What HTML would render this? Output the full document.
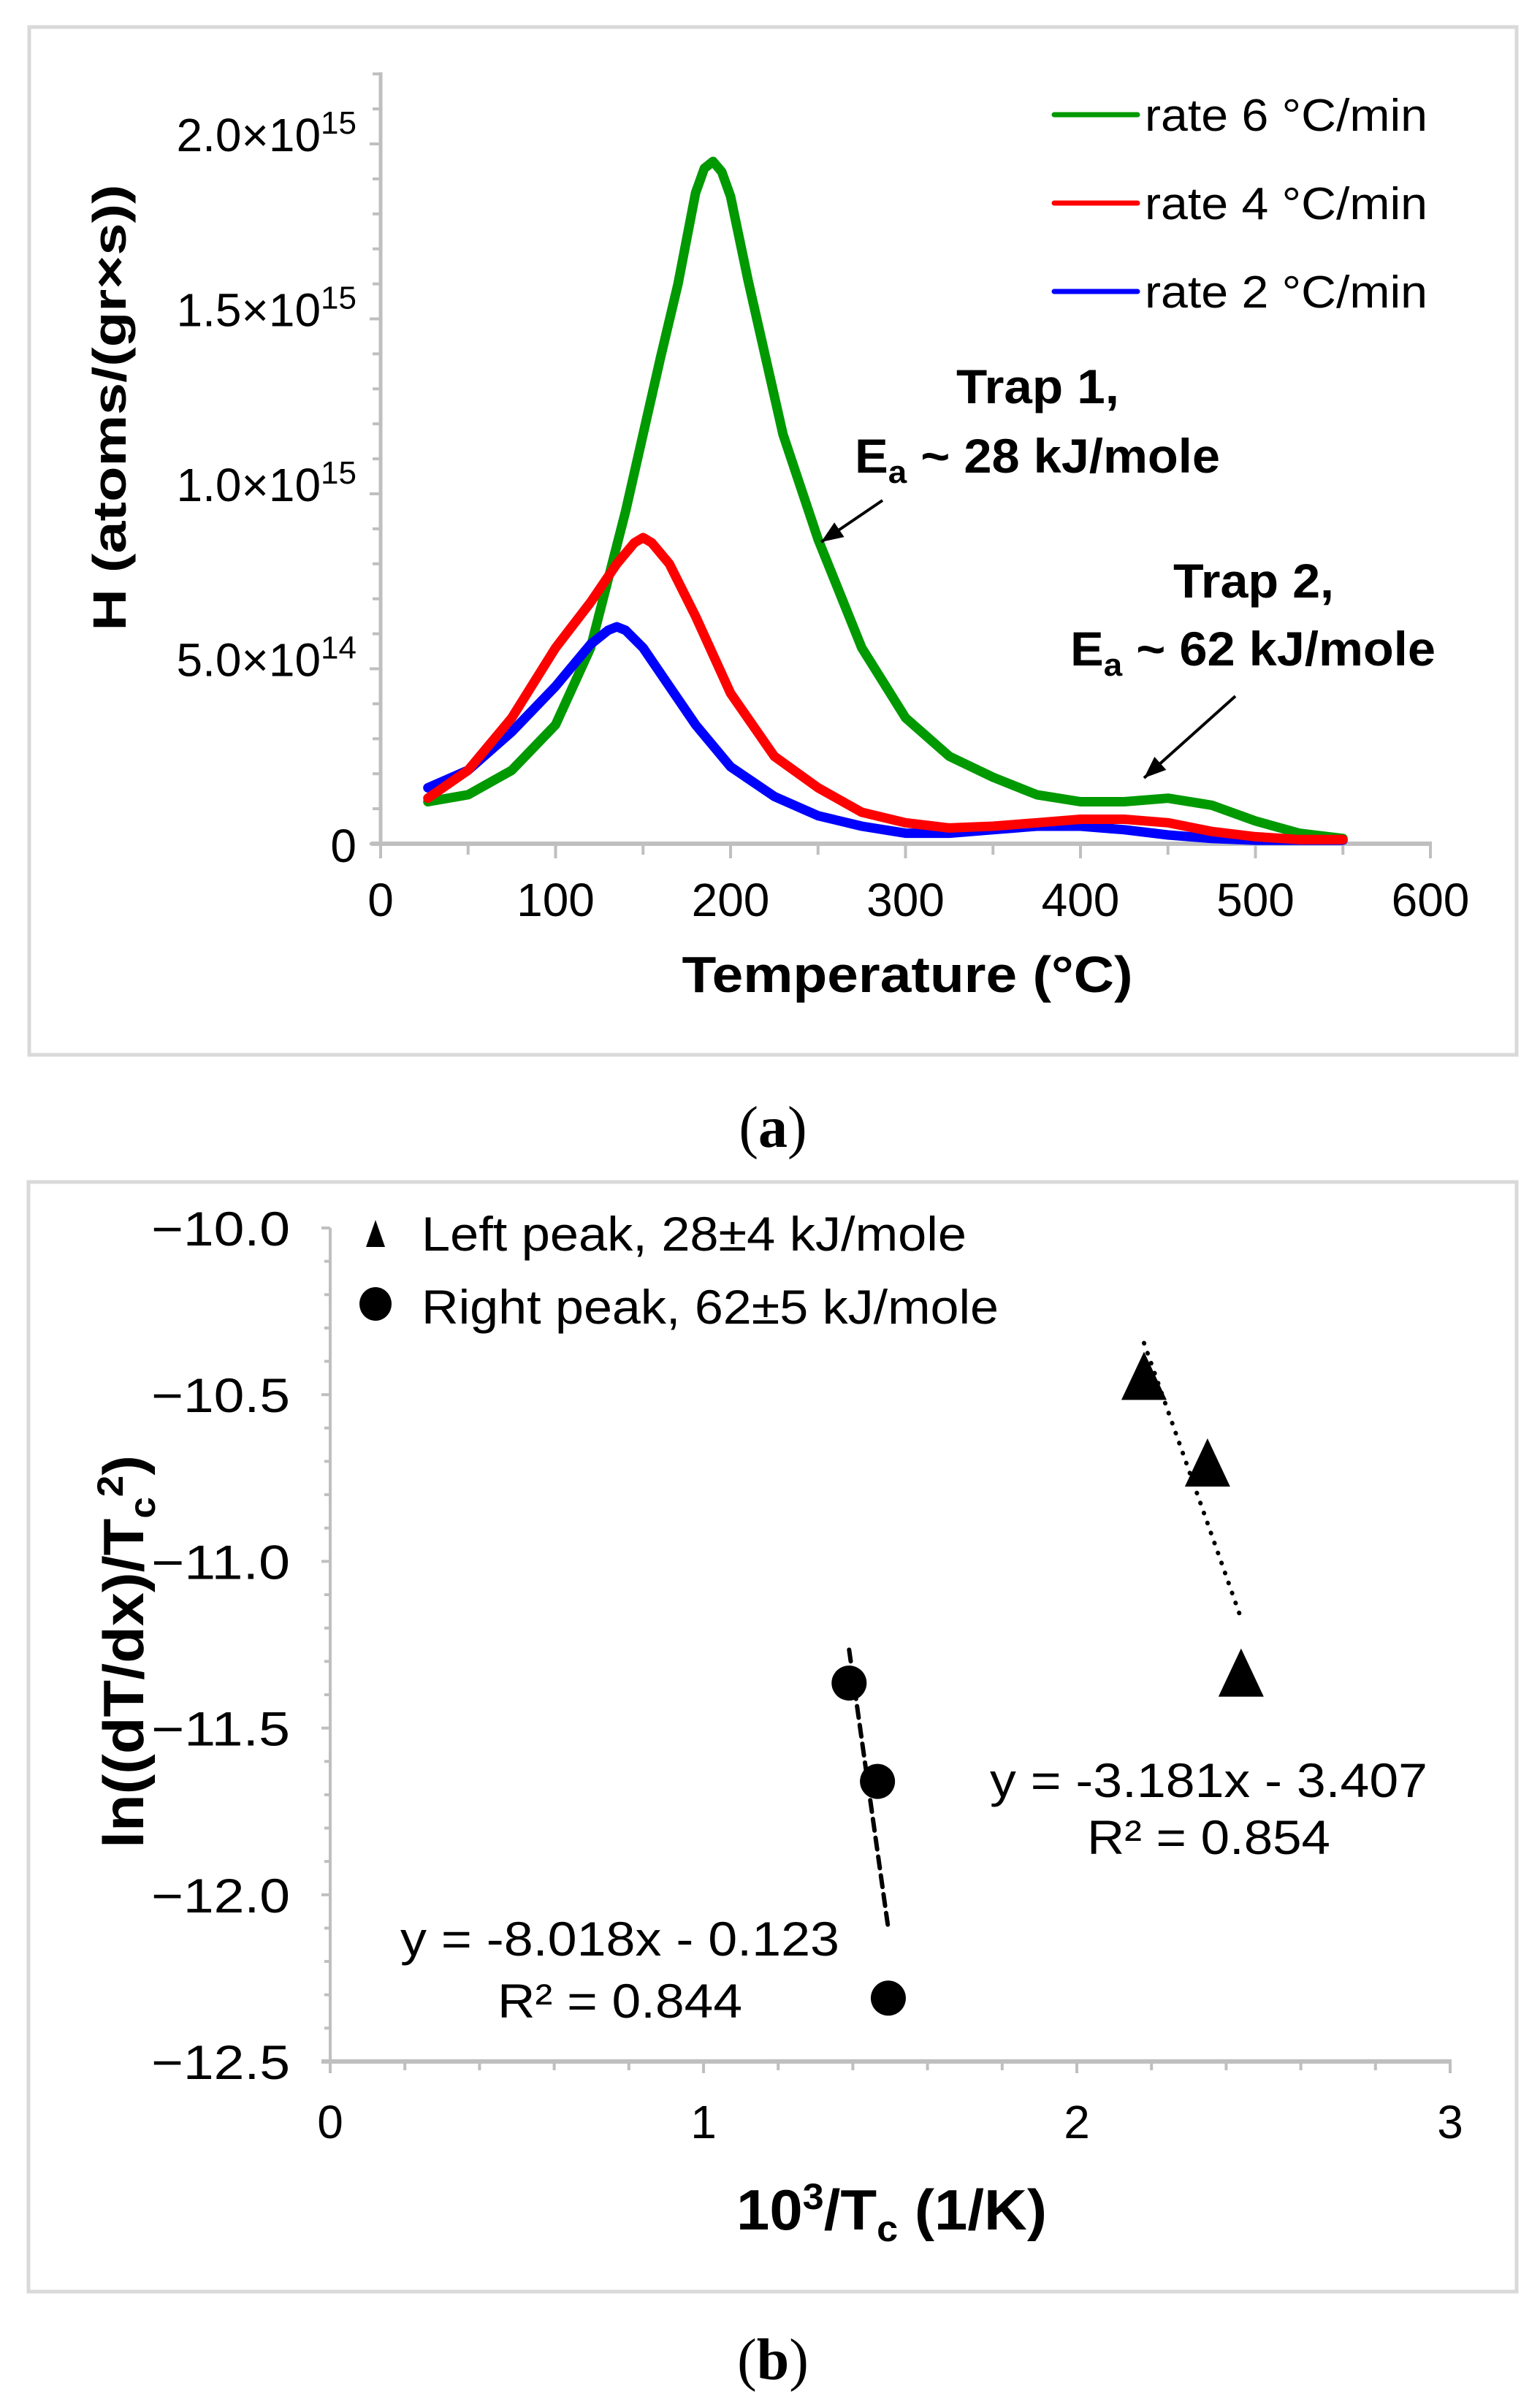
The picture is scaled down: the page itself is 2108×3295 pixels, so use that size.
<!DOCTYPE html>
<html><head><meta charset="utf-8"><style>
html,body{margin:0;padding:0;background:#fff}
svg{display:block}
text{font-family:"Liberation Sans",sans-serif;fill:#000}
</style></head><body>
<svg id="fig" width="2108" height="3295" viewBox="0 0 2108 3295" xmlns="http://www.w3.org/2000/svg">
<rect x="0" y="0" width="2108" height="3295" fill="#fff"/>
<rect x="40" y="37" width="2036" height="1407" fill="none" stroke="#d9d9d9" stroke-width="5"/>
<rect x="39" y="1618" width="2037" height="1519" fill="none" stroke="#d9d9d9" stroke-width="5"/>
<g id="ga"></g>
<g id="gb"></g>
<text x="1058" y="1570" font-size="80" text-anchor="middle" style="font-family:'Liberation Serif',serif">(<tspan font-weight="bold">a</tspan>)</text>
<text x="1058" y="3257" font-size="80" text-anchor="middle" style="font-family:'Liberation Serif',serif">(<tspan font-weight="bold">b</tspan>)</text>
</svg>
<script>
// ---------- Chart A data ----------
const tempsGreen = [27,50,75,100,120,140,160,170,180,185,190,195,200,210,230,250,275,300,325,350,375,400,425,450,475,500,525,550];
const hGreen     = [1.2,1.4,2.1,3.4,5.6,9.5,13.9,16.0,18.6,19.3,19.5,19.2,18.5,16.1,11.7,8.7,5.6,3.6,2.5,1.9,1.4,1.2,1.2,1.3,1.1,0.65,0.3,0.15];
const tempsRed   = [27,50,75,100,120,135,145,150,155,165,180,200,225,250,275,300,325,350,375,400,425,450,475,500,525,550];
const hRed       = [1.3,2.1,3.6,5.6,6.9,8.0,8.6,8.75,8.6,8.0,6.5,4.3,2.5,1.6,0.9,0.6,0.45,0.5,0.6,0.7,0.7,0.6,0.35,0.2,0.12,0.12];
const tempsBlue  = [27,50,75,100,120,130,135,140,150,165,180,200,225,250,275,300,325,350,375,400,425,450,475,500,550];
const hBlue      = [1.6,2.1,3.2,4.5,5.7,6.1,6.2,6.1,5.6,4.5,3.4,2.2,1.35,0.8,0.5,0.3,0.3,0.4,0.5,0.5,0.4,0.25,0.15,0.1,0.1];
const xTicksA = [0,100,200,300,400,500,600];
const yTicksA = [0,5,10,15,20];
const yTickLabelsA = [["0",""],["5.0×10","14"],["1.0×10","15"],["1.5×10","15"],["2.0×10","15"]];
const legendA = ["rate 6 °C/min","rate 4 °C/min","rate 2 °C/min"];

// ---------- Chart B data ----------
const leftX = [2.18,2.35,2.44];
const leftY = [-10.45,-10.71,-11.34];
const rightX = [1.39,1.466,1.495];
const rightY = [-11.365,-11.66,-12.31];
const xTicksB = [0,1,2,3];
const yTicksB = [-10.0,-10.5,-11.0,-11.5,-12.0,-12.5];
const yTickLabelsB = ["−10.0","−10.5","−11.0","−11.5","−12.0","−12.5"];

const NS="http://www.w3.org/2000/svg";
function mk(parent,tag,attrs,txt){const e=document.createElementNS(NS,tag);for(const k in attrs)e.setAttribute(k,attrs[k]);if(txt!==undefined)e.textContent=txt;parent.appendChild(e);return e;}

// ===== Chart A =====
const ga=document.getElementById('ga');
const ax=t=>521+(t/600)*(1958-521);
const ay=h=>1155-(h/20)*(1155-197);
const axisC="#bfbfbf";
let e;
e=mk(ga,'line',{x1:521,y1:99,x2:521,y2:1158,stroke:axisC,'stroke-width':5});


e=mk(ga,'line',{x1:508,y1:1155,x2:1960,y2:1155,stroke:axisC,'stroke-width':6});


for(let v=0;v<=22;v++){
  const y=ay(v);
  e=mk(ga,'line',{x1:(v%5===0?506:510),y1:y,x2:521,y2:y,stroke:axisC,'stroke-width':4});
  
  
}
for(let t=0;t<=600;t+=50){
  e=mk(ga,'line',{x1:ax(t),y1:1155,x2:ax(t),y2:(t%100===0?1175:1170),stroke:axisC,'stroke-width':4});
  
  
}
yTicksA.forEach((v,i)=>{
  const lab=yTickLabelsA[i];
  const tx=mk(ga,'text',{x:488,y:ay(v)+(i===0?25:10),'font-size':64,'text-anchor':'end'});
  
  
  mk(tx,'tspan',{},lab[0]);
  if(lab[1]){mk(tx,'tspan',{dy:-24,'font-size':44},lab[1]);}
});
xTicksA.forEach(t=>{
  e=mk(ga,'text',{x:ax(t),y:1254,'font-size':64,'text-anchor':'middle'},String(t));
  
  
});
e=mk(ga,'text',{x:1242,y:1358,'font-size':70,'font-weight':'bold','text-anchor':'middle',textLength:617,lengthAdjust:'spacingAndGlyphs'},'Temperature (°C)');


e=mk(ga,'text',{x:0,y:0,'font-size':64,'font-weight':'bold','text-anchor':'middle',transform:'translate(172,558) rotate(-90)',textLength:611,lengthAdjust:'spacingAndGlyphs'},'H (atoms/(gr×s))');



function series(xs,ys,color,name){
  const d=xs.map((t,i)=>(i?'L':'M')+ax(t).toFixed(1)+','+ay(ys[i]).toFixed(1)).join(' ');
  const p=mk(ga,'path',{d:d,fill:'none',stroke:color,'stroke-width':13,'stroke-linejoin':'round','stroke-linecap':'round'});
  
  
}
series(tempsGreen,hGreen,'#009900','series-rate-6');
series(tempsBlue,hBlue,'#0000ff','series-rate-2');
series(tempsRed,hRed,'#ff0000','series-rate-4');
const legColors=['#009900','#ff0000','#0000ff'];
legendA.forEach((s,i)=>{
  const y=157+i*121;
  e=mk(ga,'line',{x1:1443,y1:y,x2:1557,y2:y,stroke:legColors[i],'stroke-width':7,'stroke-linecap':'round'});
  
  
  e=mk(ga,'text',{x:1567,y:y+22,'font-size':62,textLength:387,lengthAdjust:'spacingAndGlyphs'},s);
  
  
});
function ann(x,y,w,txt,name){e=mk(ga,'text',{x:x,y:y,'font-size':66,'font-weight':'bold',textLength:w,lengthAdjust:'spacingAndGlyphs'},txt);return e;}
ann(1309,552,223,'Trap 1,','trap1-label');
let t1=mk(ga,'text',{x:1170,y:647,'font-size':66,'font-weight':'bold',textLength:500,lengthAdjust:'spacingAndGlyphs'});


mk(t1,'tspan',{},'E');mk(t1,'tspan',{dy:14,'font-size':44},'a');mk(t1,'tspan',{dy:-14},' ~ 28 kJ/mole');
ann(1606,818,220,'Trap 2,','trap2-label');
let t2=mk(ga,'text',{x:1465,y:911,'font-size':66,'font-weight':'bold',textLength:500,lengthAdjust:'spacingAndGlyphs'});


mk(t2,'tspan',{},'E');mk(t2,'tspan',{dy:14,'font-size':44},'a');mk(t2,'tspan',{dy:-14},' ~ 62 kJ/mole');
function arrow(x1,y1,x2,y2,name){
  const g=mk(ga,'g',{});
  
  
  mk(g,'line',{x1:x1,y1:y1,x2:x2,y2:y2,stroke:'#000','stroke-width':4});
  const ang=Math.atan2(y2-y1,x2-x1),L=30,W=12;
  const bx=x2-L*Math.cos(ang),by=y2-L*Math.sin(ang);
  const px=-Math.sin(ang)*W,py=Math.cos(ang)*W;
  mk(g,'polygon',{points:`${x2},${y2} ${bx+px},${by+py} ${bx-px},${by-py}`,fill:'#000'});
}
arrow(1208,685,1124,742,'trap1-arrow');
arrow(1691,953,1566,1065,'trap2-arrow');

// ===== Chart B =====
const gb=document.getElementById('gb');
const bx=v=>452+(v/3)*(1985-452);
const by=v=>1681+(-10-v)/2.5*(2822-1681);
e=mk(gb,'line',{x1:452,y1:1681,x2:452,y2:2822,stroke:axisC,'stroke-width':4});


e=mk(gb,'line',{x1:440,y1:2822,x2:1987,y2:2822,stroke:axisC,'stroke-width':6});


for(let i=0;i<=25;i++){
  const y=by(-10-i*0.1);
  e=mk(gb,'line',{x1:(i%5===0?440:444),y1:y,x2:452,y2:y,stroke:axisC,'stroke-width':4});
  
  
}
for(let i=0;i<=15;i++){
  const x=bx(i*0.2);
  e=mk(gb,'line',{x1:x,y1:2822,x2:x,y2:(i%5===0?2838:2834),stroke:axisC,'stroke-width':4});
  
  
}
yTicksB.forEach((v,i)=>{
  e=mk(gb,'text',{x:397,y:by(v)+24,'font-size':66,'text-anchor':'end',textLength:190,lengthAdjust:'spacingAndGlyphs'},yTickLabelsB[i]);
  
  
});
xTicksB.forEach(v=>{
  e=mk(gb,'text',{x:bx(v),y:2927,'font-size':64,'text-anchor':'middle'},String(v));
  
  
});
let xt=mk(gb,'text',{x:1008,y:3052,'font-size':78,'font-weight':'bold',textLength:425,lengthAdjust:'spacingAndGlyphs'});


mk(xt,'tspan',{},'10');mk(xt,'tspan',{dy:-28,'font-size':50},'3');mk(xt,'tspan',{dy:28},'/T');mk(xt,'tspan',{dy:16,'font-size':50},'c');mk(xt,'tspan',{dy:-16},' (1/K)');
let yt=mk(gb,'text',{x:0,y:0,'font-size':78,'font-weight':'bold','text-anchor':'middle',transform:'translate(196,2261) rotate(-90)',textLength:538,lengthAdjust:'spacingAndGlyphs'});


mk(yt,'tspan',{},'ln((dT/dx)/T');mk(yt,'tspan',{dy:16,'font-size':50},'c');mk(yt,'tspan',{dy:-44,'font-size':50},'2');mk(yt,'tspan',{dy:28},')');

function fitLine(xs,ys,dash,name){
  const n=xs.length,mx=xs.reduce((a,b)=>a+b)/n,my=ys.reduce((a,b)=>a+b)/n;
  let sxy=0,sxx=0;xs.forEach((x,i)=>{sxy+=(x-mx)*(ys[i]-my);sxx+=(x-mx)*(x-mx);});
  const m=sxy/sxx,b=my-m*mx;const x0=Math.min(...xs),x1=Math.max(...xs);
  e=mk(gb,'line',{x1:bx(x0),y1:by(m*x0+b)-15,x2:bx(x1),y2:by(m*x1+b)-15,stroke:'#000','stroke-width':6,'stroke-dasharray':dash,'stroke-linecap':'round'});
  
  
}
fitLine(leftX,leftY,'0.5 14','trendline-left');
fitLine(rightX,rightY,'16 10','trendline-right');
leftX.forEach((x,i)=>{
  const cx=bx(x),cy=by(leftY[i]);
  e=mk(gb,'polygon',{points:`${cx},${cy-36} ${cx+31},${cy+30} ${cx-31},${cy+30}`,fill:'#000'});
  
  
});
rightX.forEach((x,i)=>{
  e=mk(gb,'circle',{cx:bx(x),cy:by(rightY[i]),r:24,fill:'#000'});
  
  
});
e=mk(gb,'polygon',{points:'514,1670 527,1707 501,1707',fill:'#000'});


e=mk(gb,'ellipse',{cx:514,cy:1785,rx:22,ry:23,fill:'#000'});


e=mk(gb,'text',{x:577,y:1712,'font-size':66,textLength:746,lengthAdjust:'spacingAndGlyphs'},'Left peak, 28±4 kJ/mole');


e=mk(gb,'text',{x:577,y:1812,'font-size':66,textLength:790,lengthAdjust:'spacingAndGlyphs'},'Right peak, 62±5 kJ/mole');


function eq(x,y,w,txt,name){e=mk(gb,'text',{x:x,y:y,'font-size':66,textLength:w,lengthAdjust:'spacingAndGlyphs'},txt);}
eq(1355,2460,599,'y = -3.181x - 3.407','equation-left');
eq(1488,2538,333,'R² = 0.854','r2-left');
eq(548,2677,601,'y = -8.018x - 0.123','equation-right');
eq(681,2762,335,'R² = 0.844','r2-right');
</script>
</body></html>
